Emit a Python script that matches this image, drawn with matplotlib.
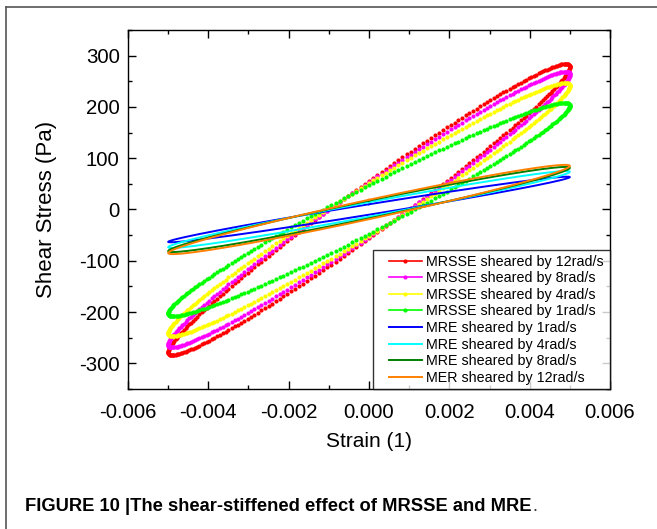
import numpy as np
import matplotlib
matplotlib.use("Agg")
import matplotlib.pyplot as plt
from matplotlib.lines import Line2D
from matplotlib.legend_handler import HandlerLine2D
from matplotlib.ticker import MultipleLocator, FormatStrFormatter

plt.rcParams['font.family'] = ['Liberation Sans', 'DejaVu Sans']
plt.rcParams['axes.unicode_minus'] = False

# loop data: strain amplitude, peak stress (Pa), phase lag (rad)
strain_amp = 0.005
mrsse_labels = ['MRSSE sheared by 12rad/s', 'MRSSE sheared by 8rad/s',
                'MRSSE sheared by 4rad/s', 'MRSSE sheared by 1rad/s']
mrsse_colors = ['#ff0000', '#ff00ff', '#ffff00', '#00ff00']
mrsse_stress = [284, 269, 247, 208]
mrsse_phase = [0.20, 0.20, 0.21, 0.23]

mre_labels = ['MRE sheared by 1rad/s', 'MRE sheared by 4rad/s',
              'MRE sheared by 8rad/s', 'MER sheared by 12rad/s']
mre_colors = ['#0000ff', '#00ffff', '#008000', '#ff8000']
mre_stress = [64, 75, 83, 87]
mre_phase = [0.16, 0.19, 0.21, 0.22]

n_points = 300  # samples per cycle

fig = plt.figure(figsize=(6.57, 5.29), dpi=100)
ax = fig.add_axes([0.1948, 0.2647, 0.7337, 0.6786])

t = np.linspace(0, 2 * np.pi, n_points, endpoint=False)
strain = strain_amp * np.sin(t)

handles = []
for lab, col, amp, ph in zip(mrsse_labels, mrsse_colors, mrsse_stress, mrsse_phase):
    stress = amp * np.sin(t + ph)
    ax.plot(strain, stress, linestyle='none', marker='o', markersize=3.0,
            markeredgewidth=0, color=col)
    handles.append(Line2D([], [], color=col, lw=1.2, marker='o', markersize=3,
                          markeredgewidth=0, label=lab))

tt = np.linspace(0, 2 * np.pi, 400)
for lab, col, amp, ph in zip(mre_labels, mre_colors, mre_stress, mre_phase):
    ax.plot(strain_amp * np.sin(tt), amp * np.sin(tt + ph), color=col, lw=1.4)
    handles.append(Line2D([], [], color=col, lw=1.4, label=lab))

ax.set_xlim(-0.006, 0.006)
ax.set_ylim(-350, 350)
ax.xaxis.set_major_locator(MultipleLocator(0.002))
ax.xaxis.set_minor_locator(MultipleLocator(0.001))
ax.yaxis.set_major_locator(MultipleLocator(100))
ax.yaxis.set_minor_locator(MultipleLocator(50))
ax.xaxis.set_major_formatter(FormatStrFormatter('%.3f'))
ax.tick_params(which='both', direction='in', top=True, right=True, width=1.0,
               labelsize=14.7)
ax.tick_params(axis='x', pad=10)
ax.tick_params(axis='y', pad=6)
ax.tick_params(which='major', length=6)
ax.tick_params(which='minor', length=3)
for sp in ax.spines.values():
    sp.set_linewidth(1.0)

ax.set_xlabel('Strain (1)', fontsize=15, labelpad=7)
ax.set_ylabel('Shear Stress (Pa)', fontsize=16, labelpad=16)

leg = ax.legend(handles=handles, loc='lower left', bbox_to_anchor=(0.508, 0, 0.492, 0.4),
                mode='expand', fontsize=10.3, frameon=True, fancybox=False,
                borderaxespad=0, borderpad=0.3, labelspacing=0.18,
                handlelength=3.13, handletextpad=0.25, numpoints=1,
                handler_map={Line2D: HandlerLine2D(xpad=0.82)})
leg.get_frame().set_edgecolor('black')
leg.get_frame().set_linewidth(1.0)

# page border and caption
fig.add_artist(Line2D([0.009, 1.0], [0.987, 0.987], color='#555555', lw=1.2,
                      transform=fig.transFigure))
fig.add_artist(Line2D([0.009, 0.009], [0.0, 0.987], color='#555555', lw=1.2,
                      transform=fig.transFigure))
cap = fig.text(0.038, 0.0346, 'FIGURE 10 |The shear-stiffened effect of MRSSE and MRE',
               fontsize=13.2, fontweight='bold', va='baseline', ha='left')
fig.text(0.0, 0.0, '.', fontsize=13.2, color='#333333', va='baseline', ha='left',
         transform=matplotlib.transforms.blended_transform_factory(
             matplotlib.transforms.IdentityTransform(), fig.transFigure))
fig.canvas.draw()
# place the plain period right after the bold caption
bb = cap.get_window_extent(fig.canvas.get_renderer())
fig.texts[-1].set_position((bb.x1 + 1, 0.0346))

fig.savefig('out.png', dpi=100)
